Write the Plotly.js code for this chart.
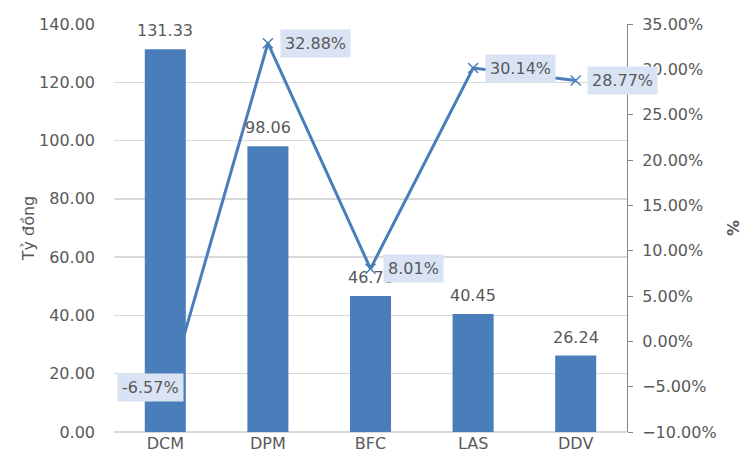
<!DOCTYPE html>
<html>
<head>
<meta charset="utf-8">
<script src="https://cdn.plot.ly/plotly-3.0.1.min.js"></script>
<style>html,body{margin:0;padding:0;background:#fff;}#chart{width:752px;height:468px;}</style>
</head>
<body>
<div id="chart"></div>
<script>
const categories = ["DCM", "DPM", "BFC", "LAS", "DDV"];
const barValues = [131.33, 98.06, 46.70, 40.45, 26.24];
const pctValues = [-0.0657, 0.3288, 0.0801, 0.3014, 0.2877];
const leftTicks = [0, 20, 40, 60, 80, 100, 120, 140];
const rightTicks = [-0.10, -0.05, 0, 0.05, 0.10, 0.15, 0.20, 0.25, 0.30, 0.35];

const FONT = "DejaVu Sans, Verdana, sans-serif";
const GREY = "#595959";
const BLUE = "#4a7ebb";

const bars = {
  type: "bar", x: categories, y: barValues, width: 0.4,
  marker: {color: BLUE}, hoverinfo: "skip"
};
const line = {
  type: "scatter", mode: "lines+markers", x: categories, y: pctValues, yaxis: "y2",
  line: {color: BLUE, width: 3},
  marker: {symbol: "x-thin", size: 10, line: {color: BLUE, width: 1.5}, color: BLUE},
  cliponaxis: false, hoverinfo: "skip"
};

const barLabels = categories.map((c, i) => ({
  x: c, y: barValues[i], xref: "x", yref: "y", showarrow: false,
  text: barValues[i].toFixed(2), xanchor: "center", yanchor: "bottom", yshift: 8,
  borderpad: 0, font: {family: FONT, size: 16, color: GREY}
}));
const shifts = [[-15, 13, "center"], [12, 0, "left"], [12, 0, "left"], [12, 0, "left"], [11, 0, "left"]];
const pctLabels = categories.map((c, i) => ({
  x: c, y: pctValues[i], xref: "x", yref: "y2", showarrow: false,
  text: (pctValues[i] * 100).toFixed(2) + "%",
  xanchor: shifts[i][2], yanchor: "middle", xshift: shifts[i][0], yshift: shifts[i][1],
  bgcolor: "#dae3f3", borderpad: 4,
  font: {family: FONT, size: 16, color: GREY}
}));

const layout = {
  width: 752, height: 468,
  margin: {l: 114, r: 125, t: 24, b: 36},
  paper_bgcolor: "#fff", plot_bgcolor: "#fff",
  showlegend: false,
  font: {family: FONT, size: 16, color: GREY},
  xaxis: {type: "category", range: [-0.5, 4.5], autorange: false, automargin: false,
    showline: false, ticks: "", showgrid: false,
    tickfont: {family: FONT, size: 16, color: GREY}},
  yaxis: {range: [0, 140], tickvals: leftTicks, tickformat: ".2f", automargin: false,
    showgrid: true, gridcolor: "#d9d9d9", gridwidth: 1.3,
    zeroline: true, zerolinecolor: "#d9d9d9", zerolinewidth: 1.3,
    showline: false, ticks: "", ticklabelstandoff: 18,
    tickfont: {family: FONT, size: 16, color: GREY},
    title: {text: "Tỷ đồng", font: {family: FONT, size: 16, color: GREY}, standoff: 0}},
  yaxis2: {overlaying: "y", side: "right", range: [-0.10, 0.35], tickvals: rightTicks, automargin: false,
    tickformat: ".2%", showgrid: false, zeroline: false,
    showline: true, linecolor: "#868686", linewidth: 1,
    ticks: "outside", ticklen: 5, tickcolor: "#868686", ticklabelstandoff: 6,
    tickfont: {family: FONT, size: 16, color: GREY},
    title: {text: "<b>%</b>", font: {family: FONT, size: 16, color: GREY}, standoff: 12}},
  annotations: barLabels.concat(pctLabels)
};

Plotly.newPlot("chart", [bars, line], layout, {staticPlot: true, displayModeBar: false});
</script>
</body>
</html>
